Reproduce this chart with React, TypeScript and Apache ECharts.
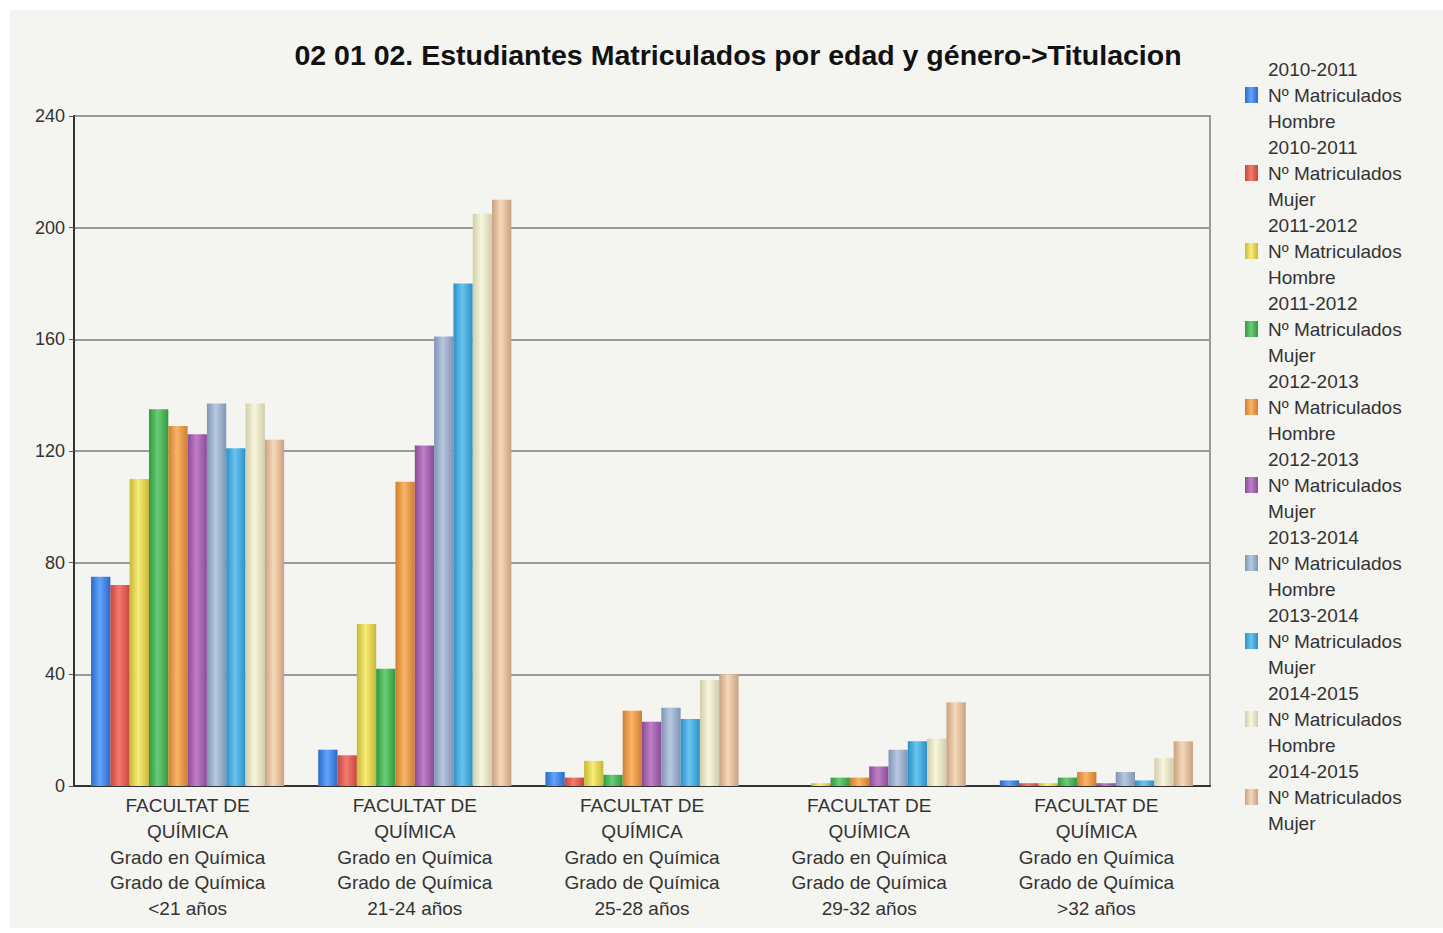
import React, { useEffect, useRef } from "react";
import * as echarts from "echarts";

const categories = [
  "FACULTAT DE\nQUÍMICA\nGrado en Química\nGrado de Química\n<21 años",
  "FACULTAT DE\nQUÍMICA\nGrado en Química\nGrado de Química\n21-24 años",
  "FACULTAT DE\nQUÍMICA\nGrado en Química\nGrado de Química\n25-28 años",
  "FACULTAT DE\nQUÍMICA\nGrado en Química\nGrado de Química\n29-32 años",
  "FACULTAT DE\nQUÍMICA\nGrado en Química\nGrado de Química\n>32 años",
];

const seriesNames = [
  "2010-2011\nNº Matriculados\nHombre",
  "2010-2011\nNº Matriculados\nMujer",
  "2011-2012\nNº Matriculados\nHombre",
  "2011-2012\nNº Matriculados\nMujer",
  "2012-2013\nNº Matriculados\nHombre",
  "2012-2013\nNº Matriculados\nMujer",
  "2013-2014\nNº Matriculados\nHombre",
  "2013-2014\nNº Matriculados\nMujer",
  "2014-2015\nNº Matriculados\nHombre",
  "2014-2015\nNº Matriculados\nMujer",
];

const h1011 = [75, 13, 5, 0, 2];
const m1011 = [72, 11, 3, 0, 1];
const h1112 = [110, 58, 9, 1, 1];
const m1112 = [135, 42, 4, 3, 3];
const h1213 = [129, 109, 27, 3, 5];
const m1213 = [126, 122, 23, 7, 1];
const h1314 = [137, 161, 28, 13, 5];
const m1314 = [121, 180, 24, 16, 2];
const h1415 = [137, 205, 38, 17, 10];
const m1415 = [124, 210, 40, 30, 16];

const seriesValues = [h1011, m1011, h1112, m1112, h1213, m1213, h1314, m1314, h1415, m1415];

const yTicks = [0, 40, 80, 120, 160, 200, 240];

const palette: [string, string][] = [
  ["#2a6acb", "#62a4fa"],
  ["#c8463e", "#f47a70"],
  ["#c8b838", "#f8ec78"],
  ["#2e9a3e", "#6ccc78"],
  ["#d07e30", "#fab468"],
  ["#8a4c98", "#c07ec8"],
  ["#8094b4", "#b8c8e0"],
  ["#2e90c8", "#68c4f0"],
  ["#d0ceac", "#f8f6dc"],
  ["#c8a282", "#f6d8b8"],
];

const FONT = "'Liberation Sans', Arial, sans-serif";

export default function App() {
  const ref = useRef<HTMLDivElement>(null);
  useEffect(() => {
    if (!ref.current) return;
    const chart = echarts.init(ref.current, undefined, { renderer: "svg" });
    const grad = (i: number) =>
      new echarts.graphic.LinearGradient(0, 0, 1, 0, [
        { offset: 0, color: palette[i][0] },
        { offset: 0.45, color: palette[i][1] },
        { offset: 1, color: palette[i][0] },
      ]);
    chart.setOption({
      animation: false,
      backgroundColor: "#ffffff",
      textStyle: { fontFamily: FONT },
      graphic: [
        {
          type: "rect",
          z: -10,
          silent: true,
          shape: { x: 10, y: 10, width: 1433, height: 918 },
          style: { fill: "#f4f4f0" },
        },
      ],
      title: {
        text: "02 01 02. Estudiantes Matriculados por edad y género->Titulacion",
        left: 733,
        textAlign: "center",
        top: 35,
        textStyle: { fontFamily: FONT, fontSize: 28.5, fontWeight: "bold", color: "#111" },
      },
      legend: {
        orient: "vertical",
        left: 1240,
        top: 51,
        itemWidth: 13,
        itemHeight: 16,
        itemGap: 0,
        icon: "rect",
        textStyle: {
          fontFamily: FONT,
          fontSize: 19,
          lineHeight: 26,
          color: "#333",
          padding: [0, 0, 0, 5],
        },
        data: seriesNames,
      },
      grid: {
        left: 74,
        right: 233,
        top: 116,
        bottom: 147,
        show: true,
        borderColor: "#9a9a9a",
        borderWidth: 2,
        backgroundColor: "transparent",
      },
      xAxis: {
        type: "category",
        data: categories,
        axisLine: { lineStyle: { color: "#333", width: 2 } },
        axisTick: { show: false },
        axisLabel: {
          interval: 0,
          margin: 7,
          fontFamily: FONT,
          fontSize: 19,
          lineHeight: 25.7,
          color: "#333",
        },
      },
      yAxis: {
        type: "value",
        min: yTicks[0],
        max: yTicks[yTicks.length - 1],
        interval: 40,
        axisLine: { show: true, lineStyle: { color: "#333", width: 2 } },
        axisTick: { show: true, length: 5, lineStyle: { color: "#555" } },
        axisLabel: { fontFamily: FONT, fontSize: 18, color: "#333", margin: 9 },
        splitLine: { lineStyle: { color: "#9a9a9a", width: 2 } },
      },
      series: seriesValues.map((vals, i) => ({
        type: "bar",
        name: seriesNames[i],
        data: vals,
        barGap: "0%",
        barCategoryGap: "15%",
        itemStyle: { color: grad(i) },
      })),
    });
    return () => chart.dispose();
  }, []);
  return (
    <div
      ref={ref}
      style={{ position: "absolute", left: 0, top: 0, width: 1443, height: 933 }}
    />
  );
}
